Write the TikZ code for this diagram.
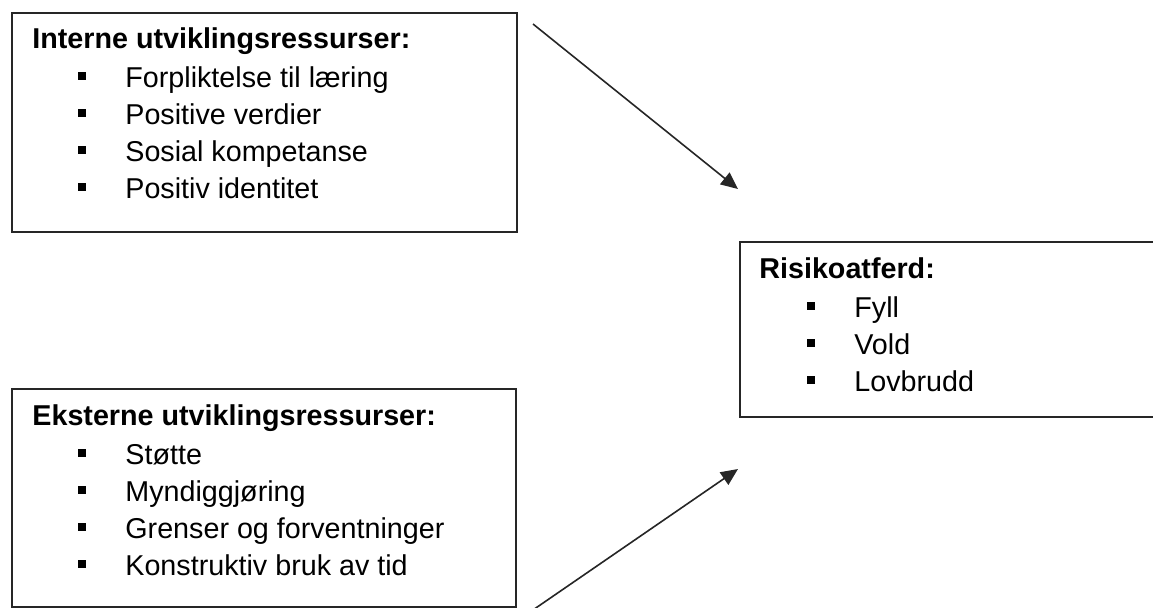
\documentclass[tikz,border=0pt]{standalone}
\usepackage{fontspec}
\setmainfont{Liberation Sans}
\usetikzlibrary{arrows.meta}
\newcommand{\sqbul}{\rule[3.6pt]{3.8pt}{3.8pt}\hspace{19.7pt}}
\tikzset{
  boxnode/.style={draw=black!85, line width=1pt, rectangle, inner sep=0pt, anchor=north west},
  title/.style={anchor=base west, inner sep=0pt, font=\fontsize{14.35pt}{17pt}\selectfont\bfseries},
  itemtxt/.style={anchor=base west, inner sep=0pt, font=\fontsize{14.35pt}{17pt}\selectfont},
  conn/.style={draw=black!85, line width=0.8pt, -{Triangle[length=8.5pt,width=7.5pt]}}
}
\begin{document}
\begin{tikzpicture}[x=0.5pt,y=-0.5pt]
\useasboundingbox (0,0) rectangle (1153,607);
\clip (0,0) rectangle (1153,607);
% box 1
\node[boxnode, minimum width=252.5pt, minimum height=109.5pt] (int) at (11,12) {};
\node[title] (intt) at (32,48) {Interne utviklingsressurser:};
\node[itemtxt] (int1) at (78,87) {\sqbul Forpliktelse til læring};
\node[itemtxt] (int2) at (78,124) {\sqbul Positive verdier};
\node[itemtxt] (int3) at (78,161) {\sqbul Sosial kompetanse};
\node[itemtxt] (int4) at (78,198) {\sqbul Positiv identitet};
% box 2
\node[boxnode, minimum width=252pt, minimum height=109pt] (ext) at (11,388) {};
\node[title] (extt) at (32,425) {Eksterne utviklingsressurser:};
\node[itemtxt] (ext1) at (78,464) {\sqbul Støtte};
\node[itemtxt] (ext2) at (78,501) {\sqbul Myndiggjøring};
\node[itemtxt] (ext3) at (78,538) {\sqbul Grenser og forventninger};
\node[itemtxt] (ext4) at (78,575) {\sqbul Konstruktiv bruk av tid};
% box 3
\node[boxnode, minimum width=215pt, minimum height=87.5pt] (risk) at (739,241) {};
\node[title] (riskt) at (759,278) {Risikoatferd:};
\node[itemtxt] (risk1) at (807,317) {\sqbul Fyll};
\node[itemtxt] (risk2) at (807,354) {\sqbul Vold};
\node[itemtxt] (risk3) at (807,391) {\sqbul Lovbrudd};
% arrows
\coordinate (a1s) at (533,24);
\coordinate (a1e) at (738,189);
\coordinate (a2s) at (530,612);
\coordinate (a2e) at (738,469);
\draw[conn] (a1s) -- (a1e);
\draw[conn] (a2s) -- (a2e);
\end{tikzpicture}
\end{document}
